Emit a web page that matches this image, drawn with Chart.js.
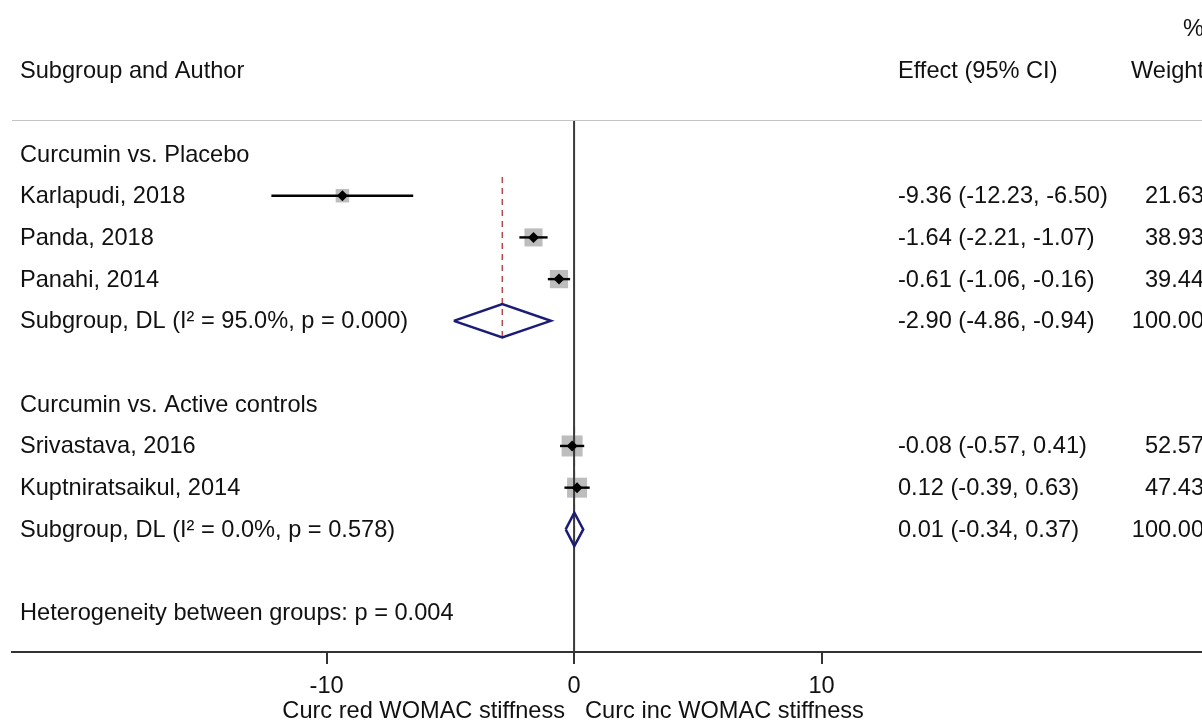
<!DOCTYPE html>
<html>
<head>
<meta charset="utf-8">
<title>Forest plot - WOMAC stiffness</title>
<script src="https://cdn.jsdelivr.net/npm/chart.js@4"></script>
<style>
    html, body { margin: 0; padding: 0; background: #fff; }
    #wrap { width: 1202px; height: 720px; position: relative; }
</style>
</head>
<body>
<div id="wrap"><canvas id="forest"></canvas></div>
<script>
// ===== Data =====

var studyNames = ['Karlapudi, 2018', 'Panda, 2018', 'Panahi, 2014', 'Srivastava, 2016', 'Kuptniratsaikul, 2014'];
var studyRows = [1, 2, 3, 7, 8];
var studyEst = [-9.36, -1.64, -0.61, -0.08, 0.12];
var studyLo = [-12.23, -2.21, -1.06, -0.57, -0.39];
var studyHi = [-6.50, -1.07, -0.16, 0.41, 0.63];
var studyWeight = [21.63, 38.93, 39.44, 52.57, 47.43];

var groupNames = ['Curcumin vs. Placebo', 'Curcumin vs. Active controls'];
var groupRows = [0, 6];

var subLabels = ['Subgroup, DL (I\u00B2 = 95.0%, p = 0.000)', 'Subgroup, DL (I\u00B2 = 0.0%, p = 0.578)'];
var subRows = [4, 9];
var subEst = [-2.90, 0.01];
var subLo = [-4.86, -0.34];
var subHi = [-0.94, 0.37];
var subWeight = [100.00, 100.00];

var hetText = 'Heterogeneity between groups: p = 0.004';
var hetRow = 11;

var xTicks = [-10, 0, 10];
var xTitles = ['Curc red WOMAC stiffness', 'Curc inc WOMAC stiffness'];
var headers = ['Subgroup and Author', 'Effect (95% CI)', 'Weight', '%'];

// ===== Layout constants =====

var FONT = '"Liberation Sans", Arial, Helvetica, sans-serif';
var FONT_SIZE = 23.6;
var X_MIN = -22.71, X_MAX = 25.37;
var Y_MIN = -0.815, Y_MAX = 11.94;

function fmt(v) { return v.toFixed(2); }

// ===== Datasets =====

var datasets = [];

// weight boxes
datasets.push({
    type: 'scatter',
    data: studyEst.map(function(v, i) { return { x: v, y: studyRows[i] }; }),
    pointStyle: 'rect',
    pointRadius: function(ctx) { return 2.05 * Math.sqrt(studyWeight[ctx.dataIndex]); },
    backgroundColor: '#bdbdbd',
    borderWidth: 0,
    order: 10
});

// subgroup estimate (dashed)
subEst.forEach(function(v, i) {
    var first = studyRows.filter(function(r) { return r > groupRows[i] && r < subRows[i]; })[0];
    datasets.push({
        type: 'line',
        data: [{ x: v, y: first - 0.45 }, { x: v, y: subRows[i] + 0.45 }],
        borderColor: '#b5484a',
        borderWidth: 1.5,
        borderDash: [6, 5],
        pointRadius: 0,
        order: 9
    });
});

// null line
datasets.push({
    type: 'line',
    data: [{ x: 0, y: Y_MIN }, { x: 0, y: Y_MAX }],
    borderColor: '#3a3a3a',
    borderWidth: 2,
    pointRadius: 0,
    order: 8
});

// confidence intervals
studyEst.forEach(function(v, i) {
    datasets.push({
        type: 'line',
        data: [{ x: studyLo[i], y: studyRows[i] }, { x: studyHi[i], y: studyRows[i] }],
        borderColor: '#000',
        borderWidth: 2.4,
        pointRadius: 0,
        order: 5
    });
});

// subgroup diamonds
subEst.forEach(function(v, i) {
    var r = subRows[i];
    datasets.push({
        type: 'line',
        data: [
            { x: subLo[i], y: r }, { x: v, y: r - 0.4 }, { x: subHi[i], y: r },
            { x: v, y: r + 0.4 }, { x: subLo[i], y: r }
        ],
        borderColor: '#1b1b78',
        borderWidth: 2.5,
        borderJoinStyle: 'miter',
        fill: false,
        tension: 0,
        pointRadius: 0,
        order: 4
    });
});

// point estimates
datasets.push({
    type: 'scatter',
    data: studyEst.map(function(v, i) { return { x: v, y: studyRows[i] }; }),
    pointStyle: 'rectRot',
    pointRadius: 5.5,
    backgroundColor: '#000',
    borderWidth: 0,
    order: 1
});

// ===== Text columns plugin =====

var textPlugin = {
    id: 'forestText',
    afterDraw: function(chart) {
        var ctx = chart.ctx;
        var ys = chart.scales.y;
        var xs = chart.scales.x;
        var area = chart.chartArea;
        var leftX = area.left + 8;
        var effX = 898;
        var wX = 1204;

        ctx.save();

        // top rule
        ctx.strokeStyle = '#c4c4c4';
        ctx.lineWidth = 1.2;
        ctx.beginPath();
        ctx.moveTo(area.left, area.top + 0.5);
        ctx.lineTo(area.right, area.top + 0.5);
        ctx.stroke();

        ctx.fillStyle = '#111';
        ctx.font = FONT_SIZE + 'px ' + FONT;
        ctx.textBaseline = 'middle';

        function put(txt, x, row, align) {
            ctx.textAlign = align || 'left';
            ctx.fillText(txt, x, ys.getPixelForValue(row) + 1);
        }

        // headers
        put(headers[0], leftX, -2);
        put(headers[1], effX, -2);
        put(headers[2], wX, -2, 'right');
        put(headers[3], wX, -3, 'right');

        groupNames.forEach(function(g, i) { put(g, leftX, groupRows[i]); });

        studyNames.forEach(function(n, i) {
            put(n, leftX, studyRows[i]);
            put(fmt(studyEst[i]) + ' (' + fmt(studyLo[i]) + ', ' + fmt(studyHi[i]) + ')', effX, studyRows[i]);
            put(fmt(studyWeight[i]), wX, studyRows[i], 'right');
        });

        subLabels.forEach(function(s, i) {
            put(s, leftX, subRows[i]);
            put(fmt(subEst[i]) + ' (' + fmt(subLo[i]) + ', ' + fmt(subHi[i]) + ')', effX, subRows[i]);
            put(fmt(subWeight[i]), wX, subRows[i], 'right');
        });

        put(hetText, leftX, hetRow);

        // axis titles either side of zero
        var zx = xs.getPixelForValue(0);
        ctx.textAlign = 'right';
        ctx.fillText(xTitles[0], zx - 9, 711);
        ctx.textAlign = 'left';
        ctx.fillText(xTitles[1], zx + 11, 711);

        ctx.restore();
    }
};

// ===== Chart =====

new Chart(document.getElementById('forest'), {
    data: { datasets: datasets },
    options: {
        responsive: true,
        maintainAspectRatio: false,
        animation: false,
        events: [],
        layout: { autoPadding: false, padding: { top: 120, left: 12, right: 0, bottom: 0 } },
        plugins: { legend: { display: false }, tooltip: { enabled: false } },
        scales: {
            x: {
                type: 'linear',
                min: X_MIN,
                max: X_MAX,
                afterBuildTicks: function(scale) {
                    scale.ticks = xTicks.map(function(v) { return { value: v }; });
                },
                afterFit: function(scale) { scale.height = 68; },
                grid: { drawOnChartArea: false, drawTicks: true, tickLength: 12, color: '#333', lineWidth: 2 },
                border: { display: true, color: '#333', width: 2 },
                ticks: {
                    color: '#111',
                    font: { family: FONT, size: FONT_SIZE },
                    padding: 8,
                    maxRotation: 0,
                    autoSkip: false
                }
            },
            y: {
                type: 'linear',
                min: Y_MIN,
                max: Y_MAX,
                reverse: true,
                display: false
            }
        }
    },
    plugins: [textPlugin]
});
</script>
</body>
</html>
